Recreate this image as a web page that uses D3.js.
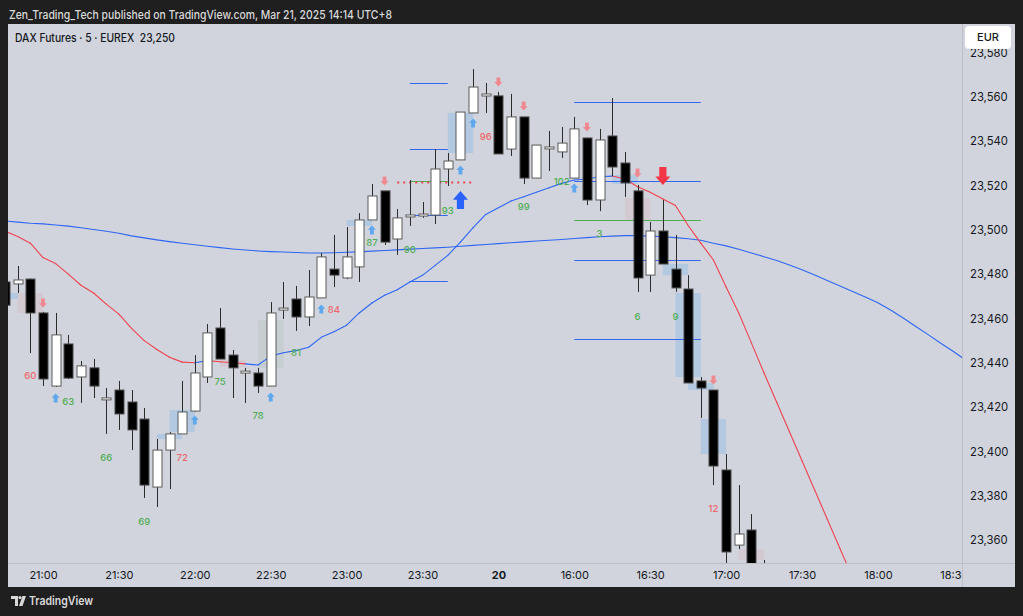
<!DOCTYPE html>
<html><head><meta charset="utf-8">
<script src="https://cdn.jsdelivr.net/npm/d3@7"></script>
<style>html,body{margin:0;padding:0;background:#1f1f1f;} svg{display:block;}</style>
</head><body>
<svg id="c" width="1023" height="616"></svg>
<script>
// ---------- DATA ----------
const candleStart = -3; // bar index of first candle (21:00 = index 0)
const opens  = [23476.5,23475.6,23477.8,23462.5,23429.5,23448.5,23433.6,23437.7,23423.7,23427.7,23422.3,23414.6,23383.9,23400.6,23407.9,23418.2,23433.6,23455.7,23443.5,23435.8,23435.4,23429.5,23463.8,23468.8,23460.7,23469.3,23482.3,23478.3,23483.3,23504.5,23517.6,23495.9,23506.3,23506.7,23506.7,23527.5,23531.6,23552.8,23560.9,23560.5,23536.5,23551,23523.4,23537,23535.2,23523.4,23541.5,23513.5,23542.4,23530.2,23517.6,23479.6,23499.5,23482.3,23473.3,23431.8,23427.7,23391.6,23357.7,23364.5,23348];
const highs  = [23478,23483.7,23478,23463,23462.5,23452.6,23440.8,23441.7,23428.6,23431.8,23427.7,23419.6,23405.6,23408.8,23431.8,23443.5,23457.5,23464.7,23445.8,23437.7,23437.7,23467.4,23476.5,23474.7,23481.9,23489.6,23497.7,23501.3,23507.6,23520.7,23517.6,23509.4,23522.5,23512.6,23536.5,23534.7,23553.2,23572.6,23566.3,23562.3,23561.4,23551,23538.3,23544.7,23546.5,23551,23541.5,23545.6,23559.5,23535.2,23520.3,23503.6,23513.5,23497.7,23479.6,23433.6,23427.7,23398.8,23384.8,23371.7,23351];
const lows   = [23462,23471.5,23444.4,23429.5,23429.1,23432.7,23421.9,23424.1,23407.9,23409.7,23400.6,23379,23374.9,23383,23407.9,23418,23430.9,23441.7,23424.1,23421.9,23426.4,23429.5,23459.8,23454.4,23456.6,23469.3,23474.2,23477.8,23476.5,23504.5,23493.2,23488.7,23501.8,23505.4,23502.7,23519.8,23531.6,23552.8,23552.8,23534.3,23533.4,23520.7,23523.4,23526.6,23532.5,23523.4,23511.2,23508.5,23524.3,23514.9,23472,23472,23484.6,23472,23430.9,23415.1,23384.8,23345,23355.9,23338,23335];
const closes = [23466,23477.4,23462.5,23432.7,23452.6,23433.1,23438.6,23429.5,23423.7,23416.9,23409.7,23384.8,23400.6,23407.9,23417.8,23435.4,23453.5,23441.7,23437.7,23435.8,23429.5,23462.5,23464.7,23460.7,23469.7,23487.8,23479.6,23487.8,23504.5,23515.3,23494.5,23505.4,23506.3,23506.7,23527.5,23531.1,23553.2,23564.5,23560.9,23534.3,23551,23523.4,23538.3,23537,23539.2,23545.6,23513.5,23540.6,23528.4,23521.2,23478.3,23499.5,23484.6,23473.8,23430.9,23428.6,23393.4,23354.6,23362.7,23342,23340];

// fast moving average (per bar from index -3), colour state per bar (r = below, b = above)
const maFast = [23499.5,23497,23494,23487.5,23484.8,23480,23475,23471.5,23466.5,23462,23455.5,23450,23446,23442.5,23440.3,23440,23441,23440.5,23440,23439.5,23439,23443,23444.5,23445.5,23447,23451.5,23454,23457,23462.5,23467,23470.5,23473,23476.5,23479.5,23484,23488.5,23494.5,23501,23507,23510,23513,23515,23517,23519,23521,23522.5,23523,23524,23524.3,23523,23519.5,23517,23514,23511,23502,23494,23486.4,23474.2,23462.5,23449,23435.4,23422.2,23409,23395.8,23382.6,23369.4,23356.2,23343];
const maFastState = "rrrrrrrrrrrrrrrbrrrbbbbbbbbbbbbbbbbbbbbbbbbbbbbbrrrrrrrrrrrrrrrrrrrrr";
// slow moving average (per bar from index -3)
const maSlow = [23504,23503.5,23503,23502.7,23502.2,23501.7,23501,23500.2,23499.4,23498.5,23497.3,23496.4,23495.5,23494.7,23494,23493.3,23492.6,23492,23491.4,23490.9,23490.5,23490.2,23490,23489.8,23489.6,23489.6,23489.7,23489.9,23490.1,23490.4,23490.7,23491,23491.3,23491.6,23491.9,23492.2,23492.6,23493,23493.4,23493.8,23494.2,23494.6,23495,23495.3,23495.7,23496.1,23496.5,23496.9,23497.2,23497.4,23497.4,23497.2,23496.9,23496.5,23496,23495.3,23494,23492.8,23491.3,23489.6,23487.9,23486.2,23484.2,23482,23479.6,23477.2,23474.7,23472.2,23469.7,23467.1,23463.8,23460.2,23456.4,23452.6,23448.7,23445,23441];

// shaded zones
const zoneFrom  = [-4,-2,9,10,14,17,24,32,45,46,49,50,51,52,55];
const zoneTo    = [-2,0,11,12,16,19,26,34,47,48,51,52,53,54,57];
const zoneTop   = [23471.5,23471.5,23407.9,23418.7,23441.3,23459.3,23504.5,23552.8,23524.8,23514.4,23484.6,23471.5,23430.9,23414.6,23355.9];
const zoneBot   = [23468.8,23462.5,23405.6,23408.8,23438.1,23437.7,23501.8,23534.7,23520.7,23504,23479.6,23433.6,23427.7,23398.8,23351];
const zoneKind  = ["b","p","b","b","p","g","b","b","b","p","b","b","b","b","p"];

// horizontal level lines
const lvlFrom  = [29,29,29,29,29,28,42,42,42,42,42];
const lvlTo    = [32,32,32,32,32,34,52,52,52,52,52];
const lvlValue = [23566.3,23536.5,23521.9,23506.7,23476.9,23521.6,23557.7,23522.1,23504.5,23486.4,23450.7];
const lvlKind  = ["b","b","g","b","b","rd","b","b","g","b","b"];

// count labels
const cntIdx  = [-1,2,5,8,11,14,17,20,23,26,29,32,35,38,41,44,47,50,53];
const cntText = ["60","63","66","69","72","75","78","81","84","87","90","93","96","99","102","3","6","9","12"];
const cntVal  = [23434,23422.3,23397,23368.1,23397,23431.3,23416,23444.4,23463.8,23494.1,23490.9,23508.5,23541.9,23510.3,23521.6,23498.1,23460.7,23460.7,23374];
const cntKind = ["r","g","g","g","r","g","g","g","r","g","g","g","r","g","g","g","g","g","r"];

// signal arrows
const upIdx   = [1,12,18,22,26,33,34,42];
const upVal   = [23424.1,23414.2,23424.6,23464.3,23500,23527,23548.3,23518.9];
const downIdx = [0,27,36,38,43,47,53];
const downVal = [23467,23522.1,23566.8,23555.9,23546.5,23525.7,23432.2];
const bigUpIdx = [33],   bigUpVal = [23513.5];
const bigDownIdx = [49], bigDownVal = [23524.3];

// axes
const priceTicks = [23360,23380,23400,23420,23440,23460,23480,23500,23520,23540,23560,23580];
const timeTickIdx = [0,6,12,18,24,30,36,42,48,54,60,66,72];
const timeTickLabels = ["21:00","21:30","22:00","22:30","23:00","23:30","20","16:00","16:30","17:00","17:30","18:00","18:30"];

// ---------- DRAW ----------
const FONT = 'Inter, "Noto Sans", "DejaVu Sans", sans-serif';
const svg = d3.select('#c');
const defs = svg.append('defs');
svg.append('rect').attr('width',1023).attr('height',616).attr('fill','#1f1f1f');

svg.append('text').attr('x',9).attr('y',19).attr('fill','#d9d9d9')
  .attr('font-family',FONT).attr('font-size',12).attr('font-weight',500)
  .attr('textLength',383).attr('lengthAdjust','spacingAndGlyphs')
  .text('Zen_Trading_Tech published on TradingView.com, Mar 21, 2025 14:14 UTC+8');

const panel = {l:8, t:24, r:1015, b:587};
const plot = {l:8, t:24, r:962, b:563};
svg.append('rect').attr('x',panel.l).attr('y',panel.t).attr('width',panel.r-panel.l).attr('height',panel.b-panel.t).attr('fill','#d1d4dc');

const x = d3.scaleLinear().domain([0,72]).range([43, 43+72*12.65]);
const y = d3.scaleLinear().domain([23360,23560]).range([540,97]);

defs.append('clipPath').attr('id','pc').append('rect')
  .attr('x',plot.l).attr('y',plot.t).attr('width',plot.r-plot.l).attr('height',plot.b-plot.t);
const g = svg.append('g').attr('clip-path','url(#pc)');

// zones
const zoneColor = {b:'rgba(100,170,240,0.28)', p:'rgba(242,54,69,0.07)', g:'rgba(90,160,110,0.09)'};
zoneFrom.forEach((f,i)=>{
  g.append('rect').attr('x',x(f)).attr('width',x(zoneTo[i])-x(f))
   .attr('y',y(zoneTop[i])).attr('height',y(zoneBot[i])-y(zoneTop[i]))
   .attr('fill',zoneColor[zoneKind[i]]);
});

// level lines
const lvlColor = {b:'#3466f2', g:'#4caf50', rd:'#f23645'};
lvlFrom.forEach((f,i)=>{
  const yy = Math.round(y(lvlValue[i]))+0.5;
  const ln = g.append('line').attr('x1',x(f)).attr('x2',x(lvlTo[i])).attr('y1',yy).attr('y2',yy)
    .attr('stroke',lvlColor[lvlKind[i]]).attr('stroke-width',1);
  if (lvlKind[i]==='rd') ln.attr('stroke-dasharray','2,4').attr('stroke-width',2).attr('opacity',0.9);
});

// slow MA
const maLine = d3.line().x(d=>x(d[0])).y(d=>y(d[1]));
g.append('path').attr('d',maLine(maSlow.map((v,i)=>[i+candleStart,v])))
  .attr('fill','none').attr('stroke','#2f66f5').attr('stroke-width',1.1);

// fast MA with colour segments
for (let i=0;i<maFast.length-1;i++){
  const c = maFastState[i]==='r' ? '#f0424f' : '#2f66f5';
  g.append('path').attr('d',maLine([[i+candleStart,maFast[i]],[i+candleStart+1,maFast[i+1]]]))
   .attr('fill','none').attr('stroke',c).attr('stroke-width',1.1).attr('stroke-linecap','round');
}

// candles
const bw = 9;
opens.forEach((o,k)=>{
  const i = k+candleStart;
  const cx = Math.round(x(i))+0.5;
  const up = closes[k] >= o;
  g.append('line').attr('x1',cx).attr('x2',cx).attr('y1',y(highs[k])).attr('y2',y(lows[k]))
    .attr('stroke','#2b2b2b').attr('stroke-width',1);
  const top = y(Math.max(o,closes[k])), bot = y(Math.min(o,closes[k]));
  const h = Math.max(2, bot-top);
  const yt = (bot-top<2) ? (top+bot)/2-1 : top;
  g.append('rect').attr('x',cx-bw/2).attr('y',yt).attr('width',bw).attr('height',h)
    .attr('fill', up ? '#ffffff' : '#000000')
    .attr('stroke', up ? '#5a5a5a' : '#4a4a4a').attr('stroke-width',1);
});

// arrows
function arrow(cx, cy, w, h, dir, color){
  const hw=w/2, sw=w*0.24, hh=h*0.48;
  let pts;
  if (dir==='up') pts = [[cx,cy-h/2],[cx+hw,cy-h/2+hh],[cx+sw,cy-h/2+hh],[cx+sw,cy+h/2],[cx-sw,cy+h/2],[cx-sw,cy-h/2+hh],[cx-hw,cy-h/2+hh]];
  else pts = [[cx,cy+h/2],[cx+hw,cy+h/2-hh],[cx+sw,cy+h/2-hh],[cx+sw,cy-h/2],[cx-sw,cy-h/2],[cx-sw,cy+h/2-hh],[cx-hw,cy+h/2-hh]];
  g.append('path').attr('d','M'+pts.map(p=>p.join(',')).join('L')+'Z').attr('fill',color);
}
upIdx.forEach((d,i)=>arrow(x(d), y(upVal[i]), 8, 9, 'up', '#5fa8ee'));
downIdx.forEach((d,i)=>arrow(x(d), y(downVal[i]), 8, 9, 'down', '#f08890'));
bigUpIdx.forEach((d,i)=>arrow(x(d), y(bigUpVal[i]), 15, 18, 'up', '#2962ff'));
bigDownIdx.forEach((d,i)=>arrow(x(d), y(bigDownVal[i]), 15, 18, 'down', '#f23645'));

// count labels
cntIdx.forEach((d,i)=>{
  g.append('text').attr('x',x(d)).attr('y',y(cntVal[i])).attr('dy','0.35em')
   .attr('text-anchor','middle').attr('font-family',FONT).attr('font-size',9.5).attr('font-weight',500)
   .attr('fill', cntKind[i]==='g' ? '#4fae55' : '#f0656c').text(cntText[i]);
});

// separators
svg.append('line').attr('x1',plot.r+0.5).attr('x2',plot.r+0.5).attr('y1',panel.t).attr('y2',panel.b).attr('stroke','#bcbfc7');
svg.append('line').attr('x1',panel.l).attr('x2',panel.r).attr('y1',plot.b+0.5).attr('y2',plot.b+0.5).attr('stroke','#bcbfc7');

// price axis
const ya = svg.append('g').attr('transform',`translate(${plot.r},0)`)
  .call(d3.axisRight(y).tickValues(priceTicks).tickSize(0).tickPadding(8).tickFormat(d3.format(',')));
ya.select('.domain').remove();
ya.selectAll('text').attr('font-family',FONT).attr('font-size',11.3).attr('fill','#131722');

// time axis
defs.append('clipPath').attr('id','xc').append('rect').attr('x',panel.l).attr('y',-2).attr('width',plot.r-panel.l).attr('height',30);
const xa = svg.append('g').attr('transform',`translate(0,${plot.b})`)
  .call(d3.axisBottom(x).tickValues(timeTickIdx).tickSize(0).tickPadding(8).tickFormat((d,i)=>timeTickLabels[i]));
xa.select('.domain').remove();
xa.attr('clip-path','url(#xc)');
xa.selectAll('text').attr('font-family',FONT).attr('font-size',11).attr('fill','#131722')
  .attr('font-weight',(d,i)=>timeTickLabels[i]==='20'?700:400);

// EUR box
svg.append('rect').attr('x',965).attr('y',26).attr('width',46).attr('height',23).attr('rx',4).attr('fill','#ffffff');
svg.append('text').attr('x',988).attr('y',37.5).attr('dy','0.35em').attr('text-anchor','middle')
  .attr('font-family',FONT).attr('font-size',11).attr('font-weight',500).attr('fill','#131722').text('EUR');

// title (single text)
svg.append('text').attr('x',15).attr('y',38).attr('dy','0.35em').attr('font-family',FONT).attr('font-size',11.5)
  .attr('font-weight',500).attr('fill','#131722').attr('xml:space','preserve')
  .attr('textLength',160).attr('lengthAdjust','spacingAndGlyphs')
  .text('DAX Futures · 5 · EUREX  23,250');

// footer logo
const lg = svg.append('g').attr('fill','#d9d9d9');
lg.append('path').attr('d','M11,596 H18 V606 H15 V599 H11 Z');
lg.append('circle').attr('cx',20).attr('cy',597.6).attr('r',1.6);
lg.append('path').attr('d','M22.5,596 H26 L22.5,606 H19 Z');
svg.append('text').attr('x',29).attr('y',601).attr('dy','0.35em').attr('font-family',FONT).attr('font-size',12)
  .attr('font-weight',600).attr('fill','#d9d9d9').attr('textLength',64).attr('lengthAdjust','spacingAndGlyphs').text('TradingView');
</script>
</body></html>
